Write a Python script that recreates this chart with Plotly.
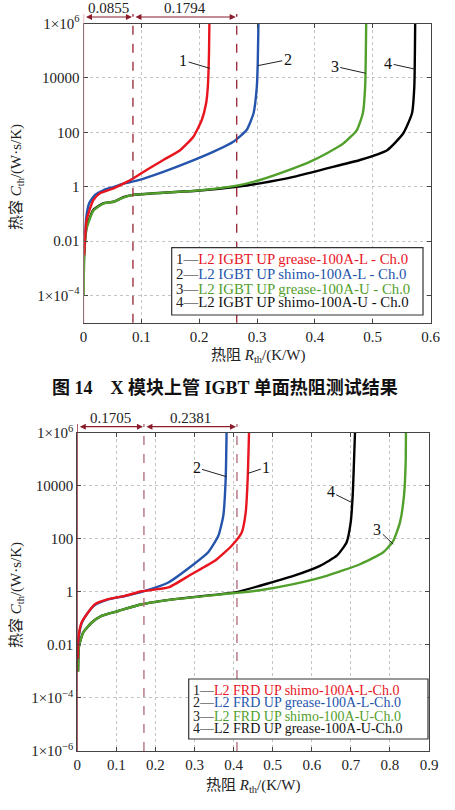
import plotly.graph_objects as go

W, H = 455, 810
OFF = 0  # page body margin removed via post_script

# ---------------- data: top chart (IGBT) ----------------
top_names = ["L2 IGBT UP grease-100A-L - Ch.0", "L2 IGBT UP shimo-100A-L - Ch.0",
             "L2 IGBT UP grease-100A-U - Ch.0", "L2 IGBT UP shimo-100A-U - Ch.0"]
top_R1 = [0.001, 0.0055, 0.017, 0.0285, 0.052, 0.069, 0.086, 0.109, 0.138, 0.167, 0.19, 0.2045, 0.212, 0.215, 0.217, 0.2177]
top_C1 = [0.003, 0.06, 0.32, 0.57, 0.87, 1.3, 2.0, 4.1, 9.6, 22, 69, 283, 1170, 4800, 8e4, 1e6]
top_R2 = [0.001, 0.005, 0.01, 0.02, 0.035, 0.05, 0.069, 0.092, 0.138, 0.184, 0.225, 0.259, 0.282, 0.294, 0.2997, 0.3013, 0.3025]
top_C2 = [0.004, 0.08, 0.25, 0.5, 0.75, 0.95, 1.3, 1.66, 3.5, 8.3, 19.4, 45, 121, 500, 4800, 3.5e4, 1e6]
top_R3 = [0.0005, 0.001, 0.0055, 0.017, 0.034, 0.052, 0.069, 0.086, 0.138, 0.196, 0.265, 0.305, 0.363, 0.392, 0.421, 0.4495, 0.4727, 0.483, 0.487, 0.4888]
top_C3 = [1e-4, 0.002, 0.03, 0.13, 0.24, 0.28, 0.4, 0.5, 0.6, 0.72, 1.1, 1.76, 4.7, 8.3, 17, 39, 121, 500, 4800, 1e6]
top_R4 = [0.0005, 0.001, 0.0055, 0.017, 0.034, 0.052, 0.069, 0.086, 0.138, 0.196, 0.265, 0.305, 0.363, 0.421, 0.478, 0.525, 0.553, 0.568, 0.572, 0.5735]
top_C4 = [1e-4, 0.003, 0.034, 0.14, 0.245, 0.28, 0.41, 0.5, 0.6, 0.71, 1.0, 1.33, 2.3, 4.7, 9.6, 22, 92, 500, 4800, 1e6]
top_marks = [0.0855, 0.1794]

# ---------------- data: bottom chart (FRD) ----------------
bot_names = ["L2 FRD UP shimo-100A-L-Ch.0", "L2 FRD UP grease-100A-L-Ch.0",
             "L2 FRD UP shimo-100A-U-Ch.0", "L2 FRD UP grease-100A-U-Ch.0"]
bot_R1 = [0.001, 0.0026, 0.011, 0.028, 0.045, 0.079, 0.122, 0.165, 0.233, 0.293, 0.352, 0.395, 0.4207, 0.431, 0.436, 0.4394]
bot_C1 = [0.003, 0.017, 0.07, 0.17, 0.34, 0.53, 0.71, 1.05, 1.46, 4.7, 14.8, 55, 174, 1000, 1.8e4, 1e6]
bot_R2 = [0.001, 0.0026, 0.011, 0.028, 0.045, 0.079, 0.122, 0.169, 0.233, 0.293, 0.335, 0.361, 0.3736, 0.3797, 0.382]
bot_C2 = [0.003, 0.014, 0.065, 0.17, 0.32, 0.52, 0.7, 1.04, 2.25, 9.6, 31, 130, 740, 1.8e4, 1e6]
bot_R3 = [0.002, 0.0044, 0.0154, 0.037, 0.062, 0.105, 0.165, 0.25, 0.4035, 0.4675, 0.553, 0.638, 0.7234, 0.783, 0.8086, 0.8257, 0.836, 0.8403, 0.841]
bot_C3 = [1e-3, 0.009, 0.03, 0.07, 0.125, 0.19, 0.34, 0.53, 0.9, 1.15, 1.95, 4, 11, 31, 84, 415, 4200, 7.6e4, 1e6]
bot_R4 = [0.002, 0.0044, 0.0154, 0.037, 0.062, 0.105, 0.165, 0.25, 0.4035, 0.4675, 0.553, 0.621, 0.664, 0.689, 0.6996, 0.7047, 0.7106]
bot_C4 = [1e-3, 0.009, 0.03, 0.07, 0.125, 0.19, 0.34, 0.53, 0.95, 1.7, 4, 9.6, 23, 73, 415, 4200, 1e6]
bot_marks = [0.1705, 0.2381]

colors = ["#e8141e", "#2454ab", "#52a02c", "#000000"]
SERIF = "Liberation Serif, Times New Roman, Noto Sans CJK SC, serif"

fig = go.Figure()

top_series = [(top_R1, top_C1), (top_R2, top_C2), (top_R3, top_C3), (top_R4, top_C4)]
bot_series = [(bot_R1, bot_C1), (bot_R2, bot_C2), (bot_R3, bot_C3), (bot_R4, bot_C4)]
for i in [3, 2, 1, 0]:
    R, C = top_series[i]
    fig.add_trace(go.Scatter(x=R, y=C, mode="lines", xaxis="x", yaxis="y",
                             line=dict(color=colors[i], width=2.4, shape="spline", smoothing=0.5),
                             showlegend=False, name=top_names[i]))
for i in [3, 2, 1, 0]:
    R, C = bot_series[i]
    fig.add_trace(go.Scatter(x=R, y=C, mode="lines", xaxis="x2", yaxis="y2",
                             line=dict(color=colors[i], width=2.4, shape="spline", smoothing=0.5),
                             showlegend=False, name=bot_names[i]))

FW, FH = W - OFF, H - OFF

def px(p):
    return (p - OFF) / FW

def py(p):
    return 1 - (p - OFF) / FH

axis_common = dict(showline=True, linecolor="#444", linewidth=1, mirror="ticks",
                   ticks="inside", ticklen=4, tickcolor="#444", automargin=False,
                   showgrid=True, gridcolor="#c4c4c4", griddash="dot", gridwidth=1,
                   zeroline=False, tickfont=dict(family=SERIF, size=15, color="#222"))

top_xt = [0, 0.1, 0.2, 0.3, 0.4, 0.5, 0.6]
bot_xt = [0, 0.1, 0.2, 0.3, 0.4, 0.5, 0.6, 0.7, 0.8, 0.9]
top_yt = [1e-4, 1e-2, 1, 100, 1e4, 1e6]
top_ytt = ["1×10<sup>−4</sup>", "0.01", "1", "100", "10000", "1×10<sup>6</sup>"]
bot_yt = [1e-6, 1e-4, 1e-2, 1, 100, 1e4, 1e6]
bot_ytt = ["1×10<sup>−6</sup>", "1×10<sup>−4</sup>", "0.01", "1", "100", "10000", "1×10<sup>6</sup>"]

xtitle = "热阻 <i>R</i><sub>th</sub>/(K/W)"
ytitle = "热容 <i>C</i><sub>th</sub>/(W·s/K)"
tfont = dict(family=SERIF, size=15, color="#222")

fig.update_layout(
    width=FW, height=FH, margin=dict(l=0, r=0, t=0, b=0),
    paper_bgcolor="white", plot_bgcolor="white",
    xaxis=dict(domain=[px(83.5), px(430.5)], range=[0, 0.6], anchor="y",
               tickvals=top_xt, ticktext=[("%g" % v) for v in top_xt], **axis_common),
    yaxis=dict(domain=[py(322.7), py(23.5)], type="log", range=[-5, 6], anchor="x",
               tickvals=top_yt, ticktext=top_ytt, **axis_common),
    xaxis2=dict(domain=[px(77.3), px(429)], range=[0, 0.9], anchor="y2",
                tickvals=bot_xt, ticktext=[("%g" % v) for v in bot_xt], **axis_common),
    yaxis2=dict(domain=[py(751), py(432.7)], type="log", range=[-6, 6], anchor="x2",
                tickvals=bot_yt, ticktext=bot_ytt, **axis_common),
)

shapes = []
annos = []

def axis_titles(xc, xy, yx, yc):
    annos.append(dict(x=px(xc), y=py(xy), xref="paper", yref="paper", text=xtitle,
                      showarrow=False, font=tfont, xanchor="center", yanchor="middle"))
    annos.append(dict(x=px(yx), y=py(yc), xref="paper", yref="paper", text=ytitle,
                      showarrow=False, font=tfont, xanchor="center", yanchor="middle",
                      textangle=-90))

axis_titles(258, 356, 17, 177)
axis_titles(253, 786, 17, 595)

def dim_lines(marks, xref, ybot, ytop_px, arrow_px, text_px, color, x0color):
    pos = [0.0]
    for m in marks:
        pos.append(pos[-1] + m)
    for k, p in enumerate(pos):
        shapes.append(dict(type="line", xref=xref, yref="paper", x0=p, x1=p,
                           y0=ybot, y1=py(ytop_px),
                           line=dict(color=(x0color if k == 0 else color), width=1.4,
                                     dash=("solid" if k == 0 else "dash"))))
    for k, m in enumerate(marks):
        a, b = pos[k], pos[k + 1]
        annos.append(dict(x=b, y=py(arrow_px), xref=xref, yref="paper", ax=a, ay=0,
                          axref=xref, ayref="pixel", text="", showarrow=True,
                          arrowhead=2, arrowside="end+start", arrowsize=1, arrowwidth=1.2,
                          arrowcolor="#8a1c2c", standoff=1, startstandoff=1))
        annos.append(dict(x=(a + b) / 2, y=py(text_px), xref=xref, yref="paper", text="%g" % m,
                          showarrow=False, font=dict(family=SERIF, size=15, color="#222"),
                          yanchor="middle"))

dim_lines(top_marks, "x", py(322.7), 14, 17, 8, "#9c3040", "#d9a0a8")
dim_lines(bot_marks, "x2", py(751), 424, 426.7, 418, "#b5737f", "#8a1c2c")

def legend_box(x0, y0, x1, y1, names, ys, size):
    shapes.append(dict(type="rect", xref="paper", yref="paper", x0=px(x0), x1=px(x1),
                       y0=py(y1), y1=py(y0), line=dict(color="#333", width=1.2),
                       fillcolor="white", layer="above"))
    for k, nm in enumerate(names):
        annos.append(dict(x=px(x0 + 2), y=py(ys[k]), xref="paper", yref="paper",
                          xanchor="left", yanchor="middle", showarrow=False,
                          text="<span style='color:#222'>%d—</span><span style='color:%s'>%s</span>"
                               % (k + 1, colors[k] if k < 3 else "#111", nm),
                          font=dict(family=SERIF, size=size)))

legend_box(171.7, 247.7, 423, 315, top_names, [259.3, 274.3, 289, 302.3], 14.8)
legend_box(188.7, 679, 428, 739, bot_names, [690, 702.7, 716, 728.3], 14.0)

def curve_label(txt, xref, yref, xv, logy, ax, ay):
    annos.append(dict(x=xv, y=logy, xref=xref, yref=yref, text=txt, showarrow=True,
                      arrowhead=0, arrowwidth=1, arrowcolor="#222", ax=ax, ay=ay,
                      font=dict(family=SERIF, size=16, color="#111"), standoff=0))

curve_label("1", "x", "y", 0.2189, 4.35, -27, -8)
curve_label("2", "x", "y", 0.3014, 4.45, 30, -6)
curve_label("3", "x", "y", 0.488, 4.17, -31, -7)
curve_label("4", "x", "y", 0.5735, 4.32, -27, -6)
curve_label("2", "x2", "y2", 0.382, 4.34, -30, -9)
curve_label("1", "x2", "y2", 0.4376, 4.47, 18, -6)
curve_label("4", "x2", "y2", 0.7047, 3.35, -22, -11)
curve_label("3", "x2", "y2", 0.8086, 1.8, -16, -15)

annos.append(dict(x=px(225), y=py(387), xref="paper", yref="paper", showarrow=False,
                  text="<b>图 14&nbsp;&nbsp;&nbsp;&nbsp;X 模块上管 IGBT 单面热阻测试结果</b>",
                  font=dict(family="Liberation Serif, Noto Sans CJK SC", size=18, color="#111"),
                  xanchor="center", yanchor="middle"))

fig.update_layout(shapes=shapes, annotations=annos)
fig.write_html("out.html", config={"displayModeBar": False},
               post_script="document.body.style.margin='0px';document.body.style.overflow='hidden';")
